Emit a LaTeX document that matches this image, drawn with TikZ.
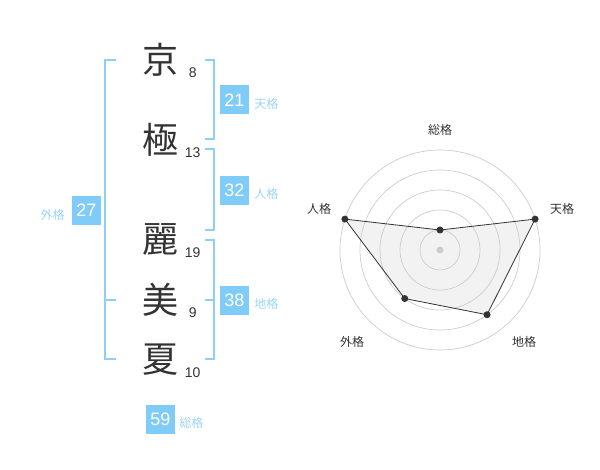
\documentclass[tikz,border=0pt]{standalone}
\usepackage{fontspec}
\setmainfont{Liberation Sans}
\newfontfamily\jpfont{Noto Sans CJK JP}
\usetikzlibrary{positioning}
\definecolor{kakublue}{HTML}{80CCF8}
\definecolor{kakuline}{HTML}{8CD0F8}
\definecolor{kakutext}{HTML}{9AD5F7}
\definecolor{inkgray}{HTML}{333333}
\definecolor{gridgray}{HTML}{CCCCCC}
\definecolor{fillgray}{HTML}{F2F2F2}
\begin{document}
\begin{tikzpicture}
        [
            x = 1pt, y = -1pt,
            kanji/.style={font=\jpfont\fontsize{36}{36}\selectfont, text=inkgray, inner sep=0pt},
            strokes/.style={font=\fontsize{14}{14}\selectfont, text=inkgray, inner sep=0pt},
            kakubox/.style={fill=kakublue, text=white, minimum size=29pt, inner sep=0pt, font=\fontsize{18}{18}\selectfont},
            kakuname/.style={font=\jpfont\fontsize{12}{12}\selectfont, text=kakutext, inner sep=0pt},
            bracket/.style={draw=kakuline, line width=1.8pt},
            axisname/.style={font=\jpfont\fontsize{12}{12}\selectfont, text=inkgray, inner sep=0pt},
            ring/.style={draw=gridgray, line width=0.7pt},
            valuedot/.style={fill=inkgray},
        ]
        \useasboundingbox (0,0) rectangle (600,470);
        \node[kanji] (kyo) at (160,60) {京};
        \node[kanji] (goku) at (160,140) {極};
        \node[kanji] (rei) at (160,240) {麗};
        \node[kanji] (mi) at (160,300) {美};
        \node[kanji] (ka) at (160,360) {夏};
        \node[strokes] (kyo-n) at (192.7,72.7) {8};
        \node[strokes] (goku-n) at (192.7,152.7) {13};
        \node[strokes] (rei-n) at (192.7,252.7) {19};
        \node[strokes] (mi-n) at (192.7,312.7) {9};
        \node[strokes] (ka-n) at (192.7,372.7) {10};
        \draw[bracket] (116,60) -- (105,60) -- (105,359.3) -- (116,359.3);
        \draw[bracket] (105,300) -- (116,300);
        \draw[bracket] (205,60) -- (214.3,60) -- (214.3,139.3) -- (205,139.3);
        \draw[bracket] (205,149.3) -- (214.3,149.3) -- (214.3,230) -- (205,230);
        \draw[bracket] (205,240) -- (214.3,240) -- (214.3,359.3) -- (205,359.3);
        \draw[bracket] (205,300) -- (214.3,300);
        \node[kakubox] (ten) at (234.5,100) {21};
        \node[kakuname, right=5pt of ten, yshift=-4pt] (ten-name) {天格};
        \node[kakubox] (jin) at (234.5,190.3) {32};
        \node[kakuname, right=5pt of jin, yshift=-4pt] (jin-name) {人格};
        \node[kakubox] (chi) at (234.5,300.3) {38};
        \node[kakuname, right=5pt of chi, yshift=-4pt] (chi-name) {地格};
        \node[kakubox] (gai) at (86.5,210.5) {27};
        \node[kakuname, left=7pt of gai, yshift=-4pt] (gai-name) {外格};
        \node[kakubox] (sou) at (160.5,419.2) {59};
        \node[kakuname, right=4pt of sou, yshift=-4pt] (sou-name) {総格};
        \begin{scope}[shift={(440,250)}, y=1pt]
            \coordinate (c) at (0,0);
            \coordinate (p-sou) at (90:20);
            \coordinate (p-ten) at (18:100);
            \coordinate (p-chi) at (-54:80);
            \coordinate (p-gai) at (-126:60);
            \coordinate (p-jin) at (162:100);
            \fill[fillgray] (p-sou) -- (p-ten) -- (p-chi) -- (p-gai) -- (p-jin) -- cycle;
            \foreach \r in {20,40,...,100}
                \draw[ring] (c) circle (\r pt);
            \fill[gridgray] (c) circle (3.5pt);
            \draw[inkgray, line width=0.8pt] (p-sou) -- (p-ten) -- (p-chi) -- (p-gai) -- (p-jin) -- cycle;
            \foreach \p in {sou,ten,chi,gai,jin}
                \fill[valuedot] (p-\p) circle (3.5pt);
            \node[axisname] (a-sou) at (0,120) {総格};
            \node[axisname] (a-ten) at (122,41) {天格};
            \node[axisname] (a-jin) at (-121,41) {人格};
            \node[axisname] (a-gai) at (-88,-92) {外格};
            \node[axisname] (a-chi) at (84,-92) {地格};
        \end{scope}
\end{tikzpicture}
\end{document}
